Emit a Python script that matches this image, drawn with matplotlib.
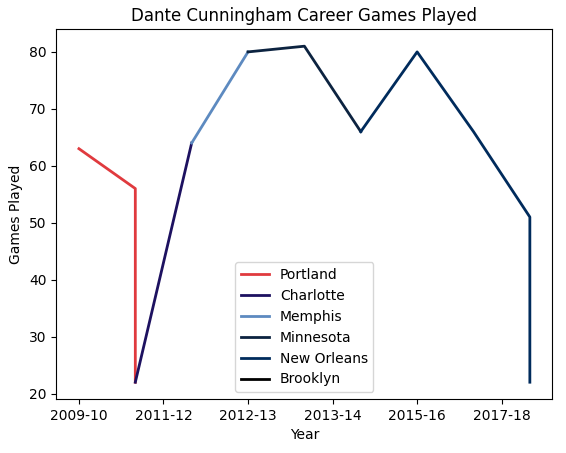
import matplotlib
matplotlib.use("Agg")
import matplotlib.pyplot as plt

seasons = ["2009-10", "2010-11", "2010-11", "2011-12", "2012-13", "2013-14",
           "2014-15", "2015-16", "2016-17", "2017-18", "2017-18"]
games = [63, 56, 22, 64, 80, 81, 66, 80, 66, 51, 22]
teams = ["Portland", "Portland", "Charlotte", "Memphis", "Minnesota", "Minnesota",
         "New Orleans", "New Orleans", "New Orleans", "New Orleans", "Brooklyn"]
team_order = ["Portland", "Charlotte", "Memphis", "Minnesota", "New Orleans", "Brooklyn"]
team_colors = {"Portland": "#E03A3E", "Charlotte": "#1D1160", "Memphis": "#5D8AC0",
               "Minnesota": "#0C2340", "New Orleans": "#002B5C", "Brooklyn": "#000000"}

unique_seasons = list(dict.fromkeys(seasons))
xpos = [unique_seasons.index(s) for s in seasons]

fig = plt.figure(figsize=(5.66, 4.53), dpi=100)
ax = fig.add_axes([56.4 / 566, 1 - 399 / 453, 496 / 566, 369.6 / 453])

for team in team_order:
    idx = [i for i, t in enumerate(teams) if t == team]
    seg = idx + ([idx[-1] + 1] if idx[-1] + 1 < len(games) else [])
    ax.plot([xpos[i] for i in seg], [games[i] for i in seg],
            color=team_colors[team], linewidth=2, label=team)

tick_pos = [0, 1.5, 3, 4.5, 6, 7.5]
tick_labels = [unique_seasons[int(round(p))] for p in tick_pos]
ax.set_xticks(tick_pos)
ax.set_xticklabels(tick_labels)
ax.set_xlabel("Year")
ax.set_ylabel("Games Played")
ax.set_title("Dante Cunningham Career Games Played")
ax.legend(loc="lower center")
fig.savefig("out.png", dpi=100)
